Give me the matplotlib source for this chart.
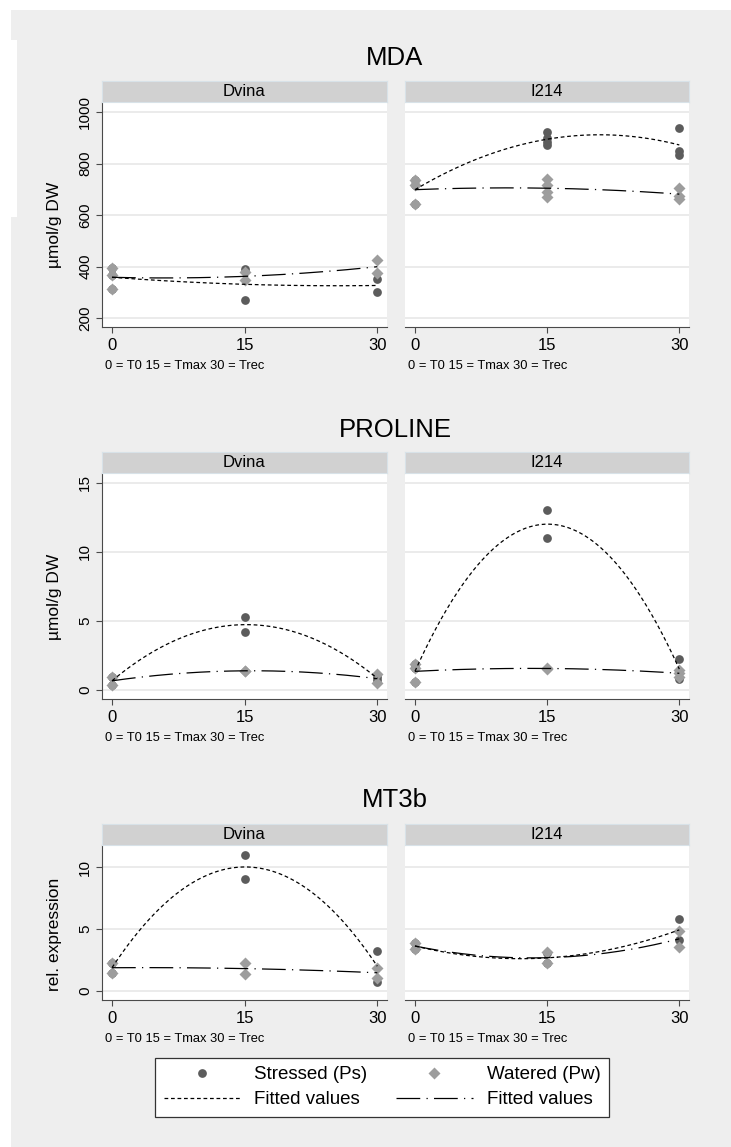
import numpy as np
import matplotlib
matplotlib.use("Agg")
import matplotlib.pyplot as plt
from matplotlib.lines import Line2D
from matplotlib.patches import Rectangle

plt.rcParams['font.family'] = ['Liberation Sans', 'DejaVu Sans']

# time points: 0 = T0, 15 = Tmax, 30 = Trec
times = [0, 15, 30]

# MDA (umol/g DW)
mda_dvina_ps_x = [0, 0, 0, 15, 15, 30, 30]
mda_dvina_ps_y = [396, 366, 313, 392, 270, 351, 302]
mda_dvina_pw_x = [0, 0, 0, 15, 15, 30, 30]
mda_dvina_pw_y = [396, 366, 313, 377, 347, 424, 375]
mda_i214_ps_x = [0, 0, 0, 15, 15, 15, 15, 30, 30, 30]
mda_i214_ps_y = [738, 716, 643, 925, 901, 884, 871, 938, 849, 832]
mda_i214_pw_x = [0, 0, 0, 15, 15, 15, 15, 30, 30, 30]
mda_i214_pw_y = [738, 716, 643, 742, 716, 690, 671, 707, 675, 663]

# PROLINE (umol/g DW)
pro_dvina_ps_x = [0, 0, 15, 15, 30, 30]
pro_dvina_ps_y = [0.97, 0.36, 5.27, 4.19, 0.95, 0.75]
pro_dvina_pw_x = [0, 0, 15, 15, 30, 30]
pro_dvina_pw_y = [0.97, 0.36, 1.40, 1.38, 1.16, 0.48]
pro_i214_ps_x = [0, 0, 0, 15, 15, 30, 30]
pro_i214_ps_y = [1.85, 1.60, 0.60, 13.02, 10.98, 2.23, 0.80]
pro_i214_pw_x = [0, 0, 0, 15, 15, 30, 30, 30]
pro_i214_pw_y = [1.85, 1.60, 0.60, 1.57, 1.55, 1.45, 1.21, 0.97]

# MT3b (relative expression)
mt_dvina_ps_x = [0, 0, 15, 15, 30, 30]
mt_dvina_ps_y = [2.27, 1.49, 11.0, 9.05, 3.25, 0.75]
mt_dvina_pw_x = [0, 0, 15, 15, 30, 30]
mt_dvina_pw_y = [2.27, 1.49, 2.27, 1.35, 1.89, 1.05]
mt_i214_ps_x = [0, 0, 15, 15, 30, 30]
mt_i214_ps_y = [3.84, 3.43, 3.05, 2.30, 5.78, 4.10]
mt_i214_pw_x = [0, 0, 15, 15, 30, 30]
mt_i214_pw_y = [3.84, 3.43, 3.11, 2.27, 4.86, 3.57]

W, H = 731, 1147
PS_COL = '#5c5c5c'
PW_COL = '#9d9d9d'
AX_COL = '#4a4a4a'
DASH = (0, (3.0, 2.2))
DASHDOT = (0, (19, 5, 1, 5))


def box(x0, y0, x1, y1):
    return [x0 / W, 1 - y1 / H, (x1 - x0) / W, (y1 - y0) / H]


def qfit(ax, x, y, ls):
    # quadratic fit over the 0-30 range
    coef = np.polyfit(x, y, 2)
    xs = np.linspace(0, 30, 200)
    ax.plot(xs, np.polyval(coef, xs), color='black', lw=0.9, ls=ls, zorder=4)


def panel(x0, x1, y_strip, y_top, y_bot, label, ylim, yticks, left, data):
    ax = fig.add_axes(box(x0, y_top, x1, y_bot))
    ax.set_facecolor('white')
    ps_x, ps_y, pw_x, pw_y = data
    ax.plot(ps_x, ps_y, 'o', color=PS_COL, ms=6.3, mec='none', zorder=2)
    ax.plot(pw_x, pw_y, 'D', color=PW_COL, ms=6.4, mec='none', zorder=3)
    qfit(ax, ps_x, ps_y, DASH)
    qfit(ax, pw_x, pw_y, DASHDOT)
    ax.set_xlim(-1.13, 31.1)
    ax.set_ylim(*ylim)
    ax.set_xticks(times)
    ax.set_yticks(yticks)
    for t in yticks:
        ax.axhline(t, color='#e6e6e6', lw=1.1, zorder=0)
    for s in ['top', 'right']:
        ax.spines[s].set_visible(False)
    ax.spines['bottom'].set_color(AX_COL)
    ax.spines['left'].set_color(AX_COL)
    ax.tick_params(axis='x', length=4, color=AX_COL, labelsize=12, pad=4)
    ax.tick_params(axis='y', length=4, color=AX_COL, labelsize=11, pad=3)
    for lab in ax.get_yticklabels():
        lab.set_rotation(90)
        lab.set_va('center')
    if not left:
        ax.spines['left'].set_visible(False)
        ax.tick_params(axis='y', left=False, labelleft=False)
    ax.text(0.01, -33 / (y_bot - y_top), '0 = T0 15 = Tmax 30 = Trec',
            transform=ax.transAxes, fontsize=9.3, va='top')
    # grey header strip with the genotype name
    sx = fig.add_axes(box(x0, y_strip, x1, y_top))
    sx.set_facecolor('#d1d1d1')
    sx.set_xticks([])
    sx.set_yticks([])
    for s in sx.spines.values():
        s.set_color('#d8e2e8')
        s.set_linewidth(0.8)
    sx.text(0.5, 0.5, label, ha='center', va='center', fontsize=12, transform=sx.transAxes)
    return ax


fig = plt.figure(figsize=(W / 100, H / 100), dpi=100)
fig.patch.set_facecolor('white')
fig.patches.append(Rectangle((11 / W, 0), 1, 1 - 10 / H, transform=fig.transFigure,
                             facecolor='#eeeeee', edgecolor='none', zorder=-10))
fig.patches.append(Rectangle((11 / W, 1 - 217 / H), 6 / W, 177 / H, transform=fig.transFigure,
                             facecolor='white', edgecolor='none', zorder=-9))

rows = [
    ('MDA', 58, 81, 102, 327, (165, 1040), [200, 400, 600, 800, 1000], 'µmol/g DW', 225,
     (mda_dvina_ps_x, mda_dvina_ps_y, mda_dvina_pw_x, mda_dvina_pw_y),
     (mda_i214_ps_x, mda_i214_ps_y, mda_i214_pw_x, mda_i214_pw_y)),
    ('PROLINE', 430, 452, 473, 699, (-0.65, 15.7), [0, 5, 10, 15], 'µmol/g DW', 597,
     (pro_dvina_ps_x, pro_dvina_ps_y, pro_dvina_pw_x, pro_dvina_pw_y),
     (pro_i214_ps_x, pro_i214_ps_y, pro_i214_pw_x, pro_i214_pw_y)),
    ('MT3b', 800, 824, 845, 1000, (-0.73, 11.8), [0, 5, 10], 'rel. expression', 934,
     (mt_dvina_ps_x, mt_dvina_ps_y, mt_dvina_pw_x, mt_dvina_pw_y),
     (mt_i214_ps_x, mt_i214_ps_y, mt_i214_pw_x, mt_i214_pw_y)),
]

for title, ty, ys, yt, yb, ylim, yticks, ylab, yly, dv, i2 in rows:
    fig.text(395 / W, 1 - ty / H, title, ha='center', va='center', fontsize=18.5)
    fig.text(55 / W, 1 - yly / H, ylab, ha='center', va='center', rotation=90, fontsize=12.5)
    panel(102, 387, ys, yt, yb, 'Dvina', ylim, yticks, True, dv)
    panel(405, 689, ys, yt, yb, 'I214', ylim, yticks, False, i2)

handles = [
    Line2D([], [], ls='none', marker='o', color=PS_COL, ms=6.3, mec='none'),
    Line2D([], [], color='black', lw=0.9, ls=DASH),
    Line2D([], [], ls='none', marker='D', color=PW_COL, ms=6.4, mec='none'),
    Line2D([], [], color='black', lw=0.9, ls=DASHDOT),
]
labels = ['Stressed (Ps)', 'Fitted values', 'Watered (Pw)', 'Fitted values']
leg = fig.legend(handles, labels, ncol=2, loc='center',
                 bbox_to_anchor=(382 / W, 1 - 1087 / H), fontsize=13.5,
                 frameon=True, fancybox=False, edgecolor='#333333', framealpha=1,
                 handlelength=4.1, handletextpad=0.75, columnspacing=1.5,
                 borderpad=0.45, labelspacing=0.42)
leg.get_frame().set_linewidth(0.9)

fig.savefig('out.png', dpi=100, facecolor=fig.get_facecolor())
